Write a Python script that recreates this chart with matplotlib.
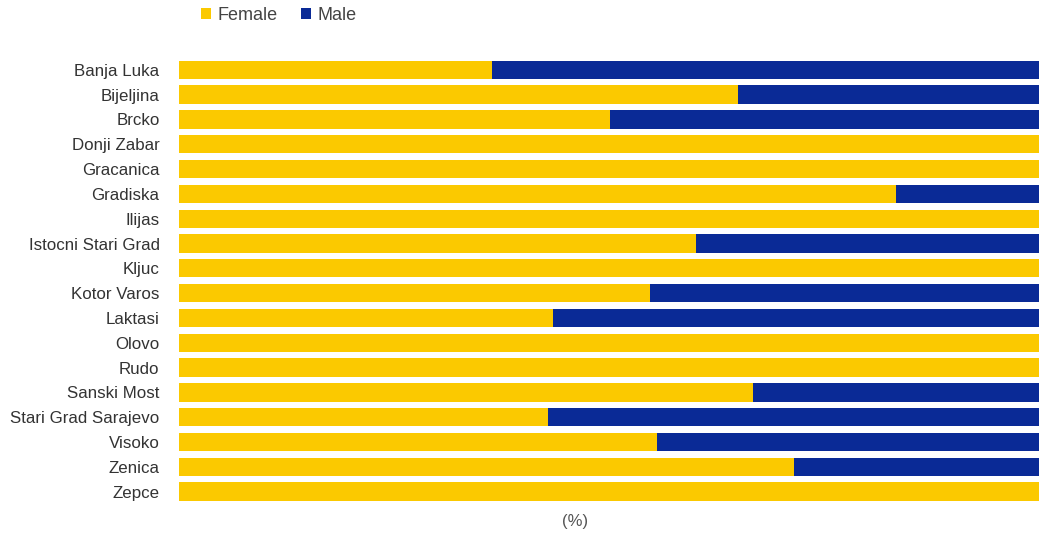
import matplotlib
matplotlib.use("Agg")
import matplotlib.pyplot as plt
import numpy as np

categories = ["Banja Luka", "Bijeljina", "Brcko", "Donji Zabar", "Gracanica", "Gradiska",
              "Ilijas", "Istocni Stari Grad", "Kljuc", "Kotor Varos", "Laktasi", "Olovo",
              "Rudo", "Sanski Most", "Stari Grad Sarajevo", "Visoko", "Zenica", "Zepce"]
female = [36.4, 65.0, 50.1, 100, 100, 83.4, 100, 60.1, 100, 54.8, 43.5, 100, 100,
          66.7, 42.9, 55.6, 71.5, 100]
male = [100 - f for f in female]

YELLOW = "#FBC900"
BLUE = "#0A2A96"

plt.rcParams['font.family'] = ['Liberation Sans', 'DejaVu Sans']

fig = plt.figure(figsize=(10.41, 5.37), dpi=100)
ax = fig.add_axes([0.172, 0.0615, 0.826, 0.8315])

y = np.arange(len(categories))
ax.barh(y, female, height=0.74, color=YELLOW, label="Female")
ax.barh(y, male, left=female, height=0.74, color=BLUE, label="Male")

ax.set_ylim(len(categories) - 0.5, -0.5)
ax.set_xlim(0, 100)
ax.set_yticks(y)
ax.set_yticklabels(categories, fontsize=12.2, color="#333333")
ax.set_xticks([])
ax.tick_params(axis='y', length=0, pad=14)
for s in ax.spines.values():
    s.set_visible(False)

fig.text(0.552, 0.028, "(%)", ha="center", va="center", fontsize=12, color="#555555")

leg = fig.legend(loc="center", bbox_to_anchor=(0.268, 0.972), ncol=2, frameon=False,
                 fontsize=13, handlelength=0.55, handleheight=0.55, handletextpad=0.35,
                 columnspacing=1.3)
for t in leg.get_texts():
    t.set_color("#444444")

fig.savefig("out.png", dpi=100)
